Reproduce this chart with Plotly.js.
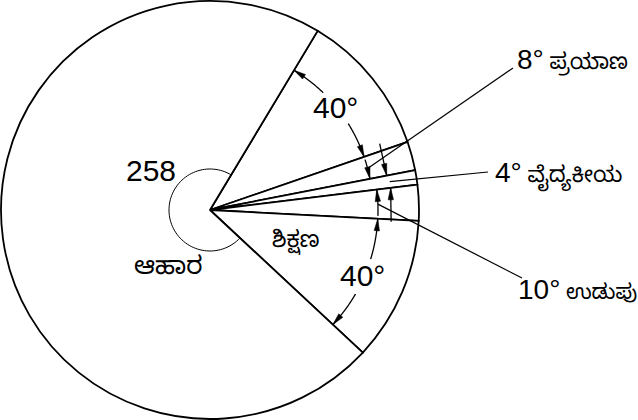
<!DOCTYPE html>
<html><head><meta charset="utf-8">
<script src="https://cdn.plot.ly/plotly-3.0.1.min.js"></script>
<style>html,body{margin:0;padding:0;background:#fff;overflow:hidden;} #chart{width:638px;height:420px;}</style>
</head><body><div id="chart"></div>
<script>
// Data (clockwise from the top boundary)
const categories = ["", "ಪ್ರಯಾಣ", "ವೈದ್ಯಕೀಯ", "ಉಡುಪು", "ಶಿಕ್ಷಣ", "ಆಹಾರ"];
const degrees = [40, 8, 4, 10, 40, 258];
const degreeLabels = ["40°", "8°", "4°", "10°", "40°", "258"];

const startAngle = 59; // math angle of first slice boundary
const W = 638, H = 420, cx = 210, cy = 210, R = 209;
const FONT = "Liberation Sans, Arial, sans-serif";
const KFONT = "Noto Sans Kannada, Noto Sans, Liberation Sans, sans-serif";

function pt(a, r) { const t = a * Math.PI / 180; return [cx + r * Math.cos(t), cy - r * Math.sin(t)]; }
const bounds = [startAngle];
degrees.forEach(d => bounds.push(bounds[bounds.length - 1] - d));
const mid = i => (bounds[i] + bounds[i + 1]) / 2;

const shapes = [], annotations = [];
const LW = 1.3;
function poly(points, w) {
  shapes.push({type: 'path', xref: 'x', yref: 'y', layer: 'above',
    path: 'M' + points.map(p => p[0].toFixed(2) + ',' + p[1].toFixed(2)).join('L'),
    line: {color: '#000', width: w || LW}});
}
function head(tip, from) {
  const dx = tip[0] - from[0], dy = tip[1] - from[1];
  const L = Math.hypot(dx, dy), ux = dx / L, uy = dy / L;
  const len = 12, hw = 2.7;
  const bx = tip[0] - ux * len, by = tip[1] - uy * len;
  const p1 = [bx - uy * hw, by + ux * hw], p2 = [bx + uy * hw, by - ux * hw];
  shapes.push({type: 'path', xref: 'x', yref: 'y', layer: 'above',
    path: `M${tip[0].toFixed(2)},${tip[1].toFixed(2)}L${p1[0].toFixed(2)},${p1[1].toFixed(2)}L${p2[0].toFixed(2)},${p2[1].toFixed(2)}Z`,
    fillcolor: '#000', line: {color: '#000', width: 0.5}});
}
function arcArrow(r, a0, a1) {
  const n = 30, pts = [];
  for (let k = 0; k <= n; k++) pts.push(pt(a0 + (a1 - a0) * k / n, r));
  poly(pts);
  const s = Math.sign(a1 - a0) * (10 / r) * 180 / Math.PI;
  head(pts[n], pt(a1 - s, r));
}
function lineArrow(from, tip) { poly([from, tip]); head(tip, from); }
function text(x, y, t, size, anchor, fam) {
  annotations.push({xref: 'x', yref: 'y', x: x, y: y, text: t, showarrow: false,
    xanchor: anchor || 'center', yanchor: 'middle', font: {family: fam || FONT, size: size, color: '#000'}});
}

// small arc marking the 258 slice
(function () {
  const pts = [], a0 = bounds[5], a1 = bounds[6], n = 80;
  for (let k = 0; k <= n; k++) pts.push(pt(a0 + (a1 - a0) * k / n, 41));
  poly(pts, 1);
})();

// 40° dimension arcs (top slice)
arcArrow(163, bounds[0] - 13, bounds[0]);
arcArrow(163, bounds[1] + 13, bounds[1]);
arcArrow(163, bounds[1] - 1, bounds[2]);
{ const tip = pt(bounds[2], 180); lineArrow([tip[0] - 7, tip[1] - 32], tip); }
// 40° dimension arcs (bottom slice)
arcArrow(168, bounds[4] - 14, bounds[4]);
arcArrow(168, bounds[5] + 13, bounds[5]);
arcArrow(168, bounds[4] + 1, bounds[3]);
{ const tip = pt(bounds[3], 182); lineArrow([tip[0] + 0.5, tip[1] + 34], tip); }

// leader lines
poly([[513, 68], pt(mid(1), 165)], 1.2);
poly([[488, 172], pt(mid(2), 182)], 1.2);
poly([[522, 278], pt(mid(3), 168)], 1.2);

// labels
text(pt(mid(0), 163)[0] - 1, pt(mid(0), 163)[1], degreeLabels[0], 30);
text(pt(mid(4), 168)[0] - 2, pt(mid(4), 168)[1], degreeLabels[4], 30);
text(151, 170, degreeLabels[5], 30);
text(168, 271, categories[5], 25, 'center', KFONT);
text(296, 243, categories[4], 23, 'center', KFONT);
const sideLabel = (i, ks) => `${degreeLabels[i]}\u2009<span style="font-family:${KFONT};font-size:${ks}px">${categories[i]}</span>`;
text(515, 62, sideLabel(1, 22), 28, 'left');
text(493, 175, sideLabel(2, 22), 28, 'left');
text(516, 292, sideLabel(3, 21), 28, 'left');

const data = [
  {type: 'pie', values: degrees, sort: false, direction: 'clockwise', rotation: 90 - startAngle,
   marker: {colors: degrees.map(() => '#ffffff'), line: {color: '#000', width: 1.8}},
   textinfo: 'none', hoverinfo: 'none', showlegend: false,
   domain: {x: [1 / W, (2 * R + 1) / W], y: [1 / H, (2 * R + 1) / H]}},
  {type: 'scatter', x: [], y: [], hoverinfo: 'skip', showlegend: false}
];
const layout = {
  width: W, height: H, margin: {l: 0, r: 0, t: 0, b: 0},
  paper_bgcolor: '#fff', plot_bgcolor: 'rgba(0,0,0,0)', showlegend: false,
  xaxis: {range: [0, W], visible: false, fixedrange: true},
  yaxis: {range: [H, 0], visible: false, fixedrange: true},
  shapes: shapes, annotations: annotations
};
Plotly.newPlot('chart', data, layout, {staticPlot: true, displayModeBar: false});
</script>
</body></html>
